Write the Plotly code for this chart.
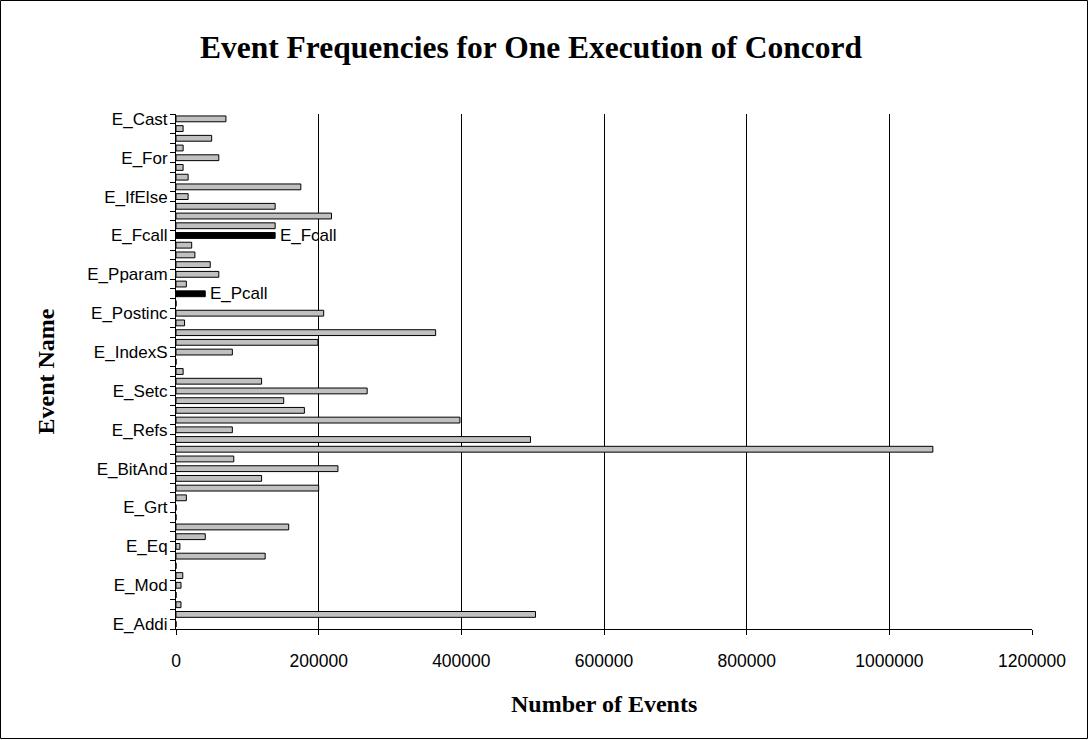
import plotly.graph_objects as go

# Categories listed top-to-bottom as they appear; unlabeled categories are ""
event_names = [
    "E_Cast", "", "", "", "E_For", "", "", "", "E_IfElse", "", "", "",
    "E_Fcall", "", "", "", "E_Pparam", "", "", "", "E_Postinc", "", "", "",
    "E_IndexS", "", "", "", "E_Setc", "", "", "", "E_Refs", "", "", "",
    "E_BitAnd", "", "", "", "E_Grt", "", "", "", "E_Eq", "", "", "",
    "E_Mod", "", "", "", "E_Addi",
]
event_counts = [
    70000, 10000, 50000, 10000, 60000, 10000, 17000, 175000,
    17000, 139000, 218000, 139000, 139000, 22000, 26500, 48000,
    60000, 14500, 41000, 0, 207000, 12000, 364000, 199000,
    79000, 0, 10000, 120000, 268000, 151000, 180000, 398000,
    79000, 497000, 1061000, 81000, 227000, 120000, 200000, 14500,
    0, 0, 158000, 41000, 5500, 125000, 0, 9500,
    7000, 0, 7000, 504000, 0,
]
# highlighted bars (black) with data labels
highlight_labels = {12: "E_Fcall", 18: "E_Pcall"}

x_tick_values = [0, 200000, 400000, 600000, 800000, 1000000, 1200000]

n = len(event_counts)
positions = [n - 1 - i for i in range(n)]
colors = ["#000000" if i in highlight_labels else "#c0c0c0" for i in range(n)]
texts = [("\u00a0" + highlight_labels[i]) if i in highlight_labels else "" for i in range(n)]

fig = go.Figure()
fig.add_trace(go.Bar(
    x=event_counts, y=positions, orientation="h",
    marker=dict(color=colors, line=dict(color="#000000", width=1)),
    width=0.6,
    text=texts, textposition="outside", cliponaxis=False,
    constraintext="none",
    textfont=dict(family="Liberation Sans, Arial", size=17, color="#000000"),
    hoverinfo="x+y",
))

ML, MR, MT, MB = 176, 57, 114, 111
W, H = 1089, 740
pw, ph = W - ML - MR, H - MT - MB

fig.update_layout(
    width=W, height=H,
    margin=dict(l=ML, r=MR, t=MT, b=MB, autoexpand=False),
    paper_bgcolor="white", plot_bgcolor="white",
    showlegend=False,
    font=dict(family="Liberation Sans, Arial", size=17, color="#000000"),
    title=dict(
        text="<b>Event Frequencies for One Execution of Concord</b>",
        font=dict(family="Liberation Serif, Times New Roman", size=31.5, color="#000000"),
        x=531 / W, xanchor="center", y=1 - 47 / H, yanchor="middle",
    ),
    xaxis=dict(
        range=[0, 1200000], tickvals=x_tick_values,
        ticktext=[str(v) for v in x_tick_values],
        showgrid=True, gridcolor="#000000", gridwidth=1,
        showline=True, linecolor="#000000", linewidth=1,
        ticks="outside", ticklen=5, tickcolor="#000000",
        ticklabelstandoff=11,
        zeroline=False,
        tickfont=dict(family="Liberation Sans, Arial", size=17.5, color="#000000"),
    ),
    yaxis=dict(
        range=[-0.5, n - 0.5],
        tickvals=[positions[i] for i in range(n) if event_names[i]],
        ticktext=[event_names[i] for i in range(n) if event_names[i]],
        ticks="", showgrid=False, zeroline=False,
        showline=True, linecolor="#000000", linewidth=1,
        ticklabelstandoff=4,
        minor=dict(ticks="outside", tick0=-0.5, dtick=1, ticklen=5,
                   tickcolor="#000000", tickwidth=1, showgrid=False),
        tickfont=dict(family="Liberation Sans, Arial", size=17, color="#000000"),
    ),
    annotations=[
        dict(text="<b>Number of Events</b>", xref="paper", yref="paper",
             x=0.5, y=-(704 - (H - MB)) / ph, xanchor="center", yanchor="middle",
             showarrow=False,
             font=dict(family="Liberation Serif, Times New Roman", size=24, color="#000000")),
        dict(text="<b>Event Name</b>", xref="paper", yref="paper",
             x=-(ML - 45) / pw, y=0.5, xanchor="center", yanchor="middle",
             textangle=-90, showarrow=False,
             font=dict(family="Liberation Serif, Times New Roman", size=24, color="#000000")),
    ],
    shapes=[
        dict(type="rect", xref="paper", yref="paper",
             x0=-(ML - 0.5) / pw, x1=1 + (MR - 1.5) / pw,
             y0=-(MB - 1.5) / ph, y1=1 + (MT - 0.5) / ph,
             line=dict(color="#000000", width=1), fillcolor="rgba(0,0,0,0)"),
    ],
)

fig.write_html("out.html", config={"displayModeBar": False},
               post_script="document.body.style.margin='0';")
